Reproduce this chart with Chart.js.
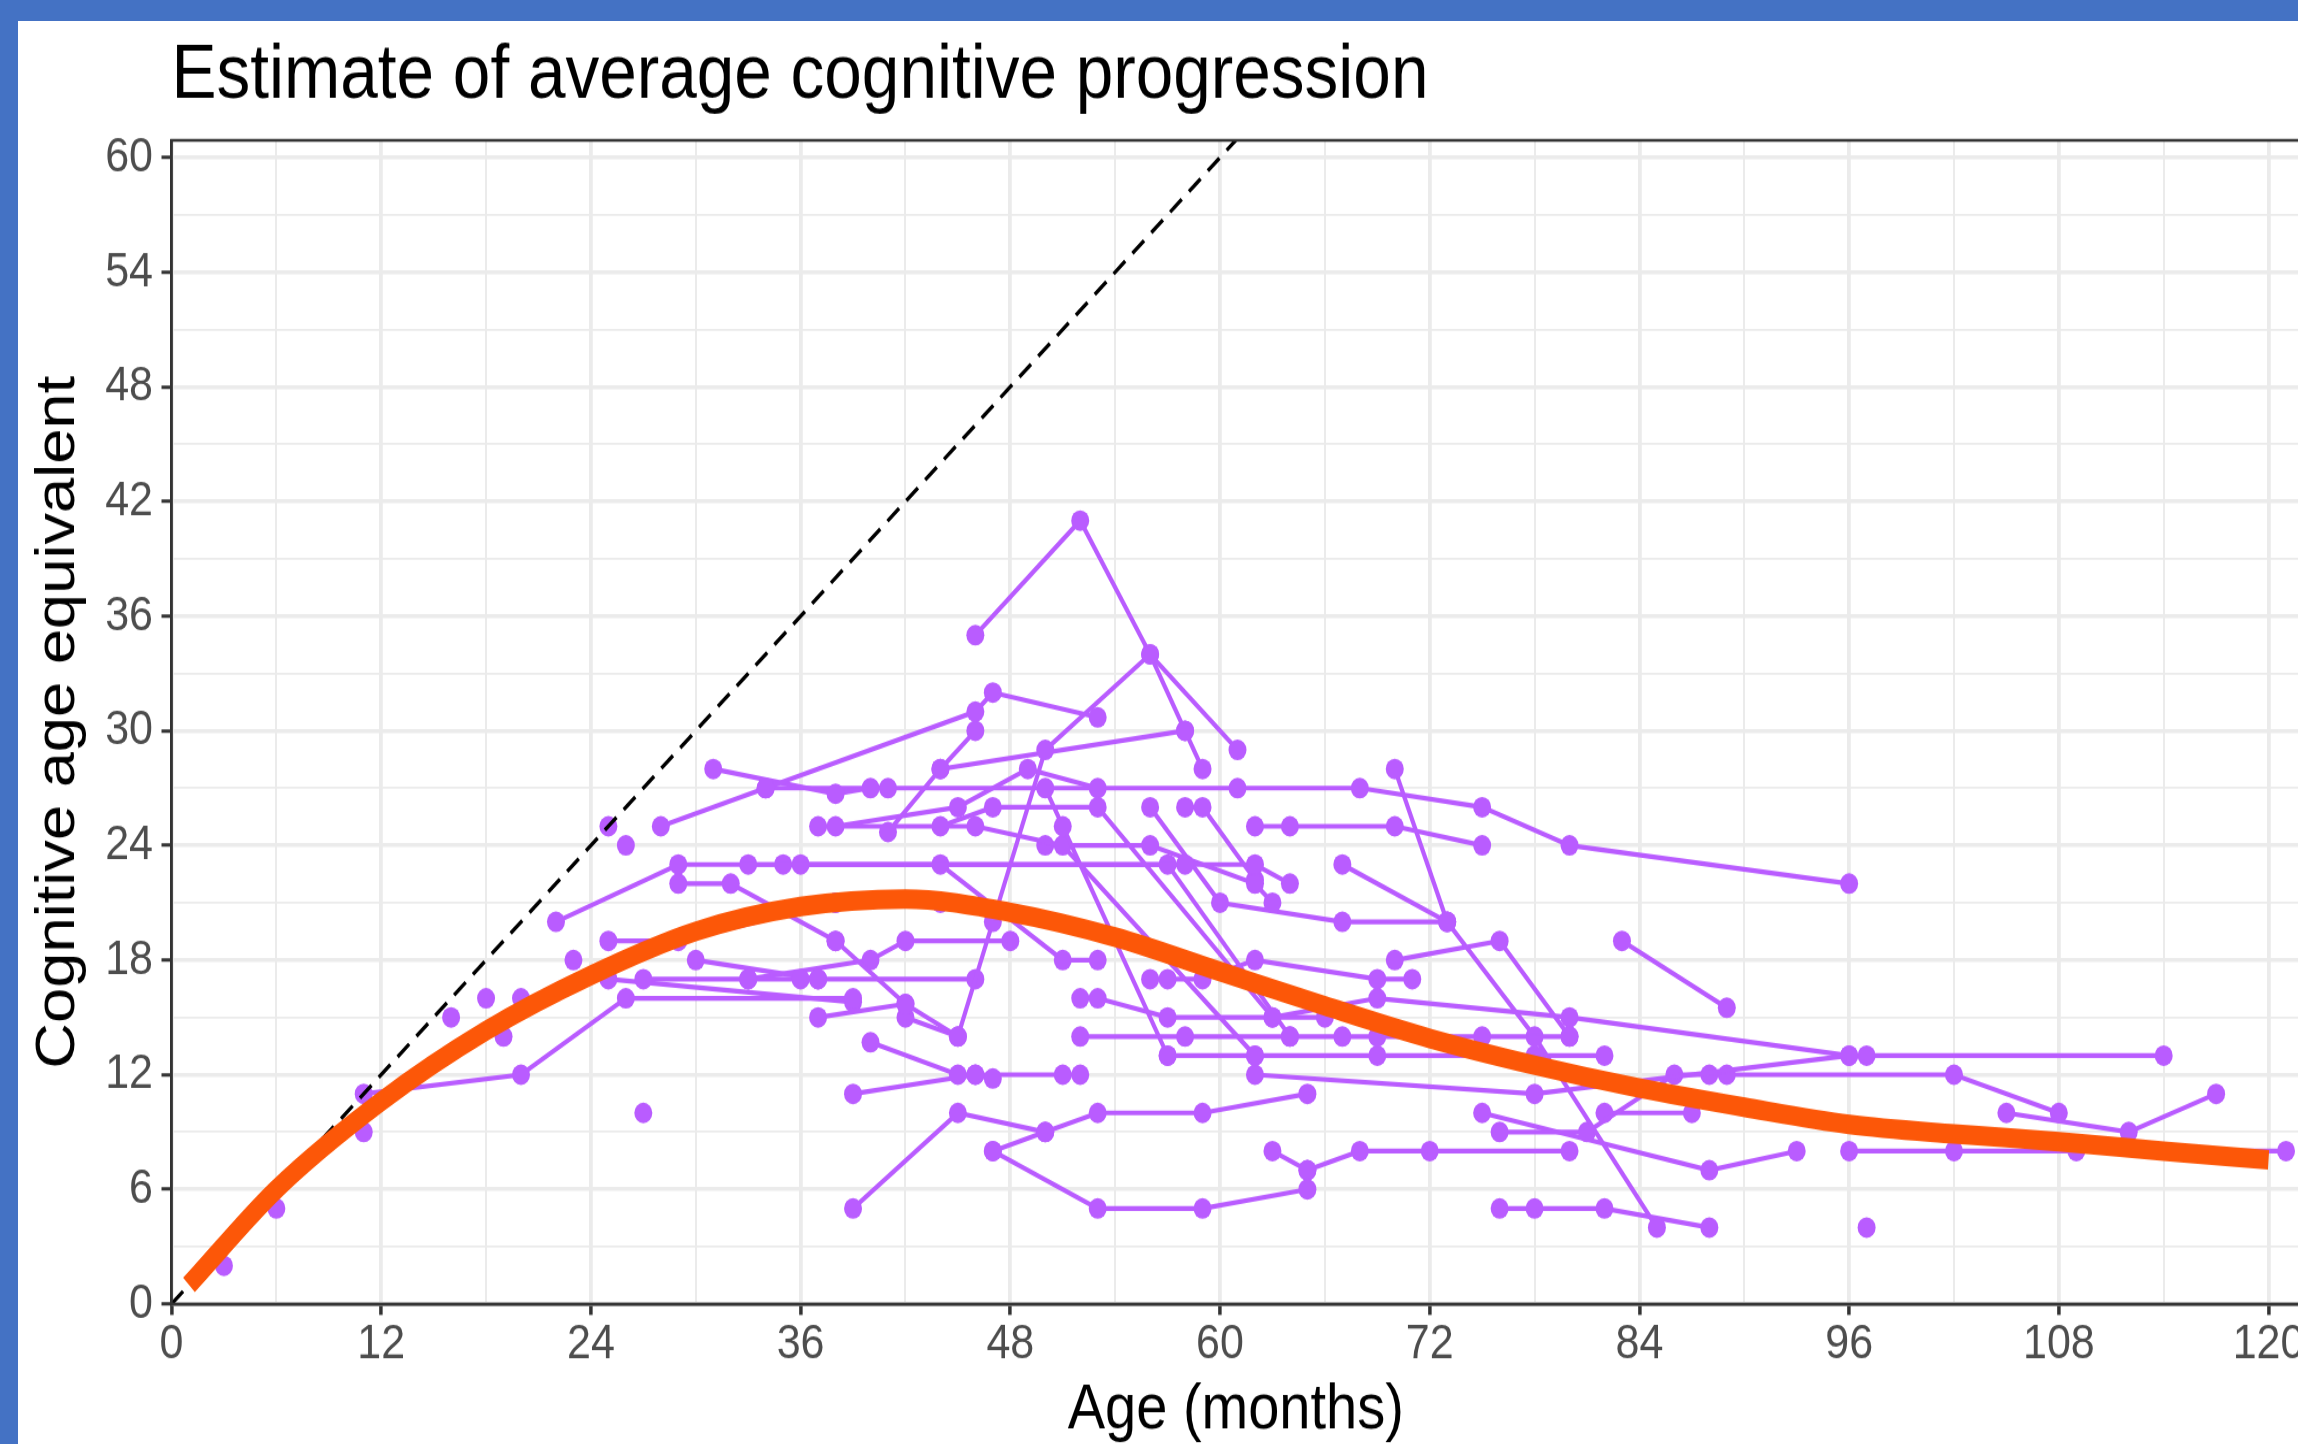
<!DOCTYPE html>
<html><head><meta charset="utf-8">
<script src="https://cdn.jsdelivr.net/npm/chart.js@4/dist/chart.umd.min.js"></script>
<style>
html,body{margin:0;padding:0;width:2298px;height:1444px;overflow:hidden;background:#fff;}
#frame{position:absolute;left:0;top:0;width:2298px;height:1444px;overflow:hidden;background:#fff;}
#wrap{position:absolute;left:0;top:0;width:2340px;height:1290px;transform:scaleY(1.15);transform-origin:0 0;}
#blueTop{position:absolute;left:0;top:0;width:2298px;height:21px;background:#4472C4;}
#blueLeft{position:absolute;left:0;top:0;width:18px;height:1444px;background:#4472C4;}
</style></head>
<body><div id="frame"><div id="wrap"><canvas id="c"></canvas></div><div id="blueTop"></div><div id="blueLeft"></div></div>
<script>
// ---- axis ticks ----
const xTickLabels = [0,12,24,36,48,60,72,84,96,108,120];
const xMinorTicks = [6,18,30,42,54,66,78,90,102,114];
const yTickLabels = [0,6,12,18,24,30,36,42,48,54,60];
const yMinorTicks = [3,9,15,21,27,33,39,45,51,57];

// ---- average trajectory (orange) ----
const fitAge = [1,6,12,18,24,30,36,42,48,54,60,66,72,78,84,90,96,102,108,114,120];
const fitCog = [1.0,6.0,10.6,14.3,17.2,19.5,20.8,21.2,20.5,19.2,17.4,15.6,13.9,12.5,11.3,10.3,9.4,8.9,8.5,8.0,7.55];

// ---- identity reference (dashed) ----
const refAge = [0,60.9];

// ---- individual subjects: [age, cognitive age equivalent] ----
const s01=[[11,11],[20,12],[26,16],[39,16]];
const s02=[[22,20],[29,23],[58,23]];
const s03=[[28,25],[34,27],[46,31],[47,32],[53,30.7]];
const s04=[[31,28],[38,26.7],[40,27],[41,27]];
const s05=[[46,35],[52,41],[56,34],[58,30],[59,28]];
const s06=[[38,19],[42,15.7],[45,14],[47,20],[50,29],[56,34],[61,29]];
const s07=[[44,28],[46,30]];
const s08=[[41,24.7],[44,28],[58,30]];
const s09=[[34,27],[61,27],[68,27],[75,26],[80,24],[96,22]];
const s10=[[50,27],[51,25],[57,13]];
const s11=[[37,25],[46,25],[51,24],[62,13]];
const s12=[[38,25],[45,26],[49,28],[53,27]];
const s13=[[44,25],[47,26],[53,26],[63,15]];
const s14=[[62,25],[64,25],[70,25],[75,24]];
const s15=[[33,23],[44,23],[51,18],[53,18]];
const s16=[[35,23],[57,23],[64,14]];
const s17=[[29,22],[32,22],[38,19]];
const s18=[[36,23],[62,23],[64,22]];
const s19=[[50,24],[56,24],[62,22],[63,21]];
const s20=[[56,26],[60,21],[67,20],[73,20]];
const s21=[[38,21],[44,21]];
const s22=[[25,19],[29,19],[38,21]];
const s23=[[27,17],[33,17],[36,17],[37,17],[46,17]];
const s24=[[30,18],[37,17]];
const s25=[[33,17],[40,18],[42,19],[48,19]];
const s26=[[37,15],[42,15.7]];
const s27=[[42,15],[45,14]];
const s28=[[56,17],[57,17],[59,17],[62,18],[69,17],[71,17]];
const s29=[[52,16],[53,16],[57,15],[66,15]];
const s30=[[40,13.7],[45,12],[46,12],[47,11.8]];
const s31=[[39,11],[46,12],[51,12],[52,12]];
const s32=[[39,5],[45,10],[50,9]];
const s33=[[47,8],[50,9],[53,10],[59,10],[65,11]];
const s34=[[47,8],[53,5],[59,5],[65,6]];
const s35=[[52,14],[58,14],[64,14],[67,14],[69,14],[75,14],[80,14]];
const s36=[[57,13],[62,13],[69,13],[78,13],[82,13]];
const s37=[[62,12],[78,11],[96,13]];
const s38=[[63,15],[69,16],[80,15],[96,13],[97,13],[114,13]];
const s39=[[70,28],[73,20],[78,14],[85,4]];
const s40=[[67,23],[73,20]];
const s41=[[65,7],[68,8],[72,8],[80,8]];
const s42=[[76,9],[81,9],[86,12],[89,12]];
const s43=[[76,5],[78,5],[82,5],[88,4]];
const s44=[[75,10],[88,7],[93,8]];
const s45=[[96,8],[102,8],[109,8],[121,8]];
const s46=[[83,19],[89,15.5]];
const s47=[[88,12],[102,12],[108,10]];
const s48=[[105,10],[112,9],[117,11]];
const s49=[[82,10],[87,10]];
const s50=[[70,18],[76,19],[80,14]];
const s51=[[25,17],[39,15.8]];
const s52=[[3,2]], s53=[[6,5]], s54=[[11,9]], s55=[[27,10]], s56=[[97,4]];
const s57=[[16,15]], s58=[[18,16]], s59=[[19,14]], s60=[[20,16]], s61=[[23,18]];
const s62=[[25,25]], s63=[[26,24]];
const s64=[[63,8],[65,7]];
const s65=[[58,26],[59,26],[62,22.2]];
const subjects=[s01,s02,s03,s04,s05,s06,s07,s08,s09,s10,s11,s12,s13,s14,s15,s16,s17,s18,s19,s20,
 s21,s22,s23,s24,s25,s26,s27,s28,s29,s30,s31,s32,s33,s34,s35,s36,s37,s38,s39,s40,s41,s42,s43,s44,
 s45,s46,s47,s48,s49,s50,s51,s52,s53,s54,s55,s56,s57,s58,s59,s60,s61,s62,s63,s64,s65];

const PURPLE='#B95CFF', ORANGE='#FC5708';
const FONT="'Liberation Sans', Arial, Helvetica, sans-serif";

const xAll=[...xTickLabels,...xMinorTicks].sort((a,b)=>a-b);
const yAll=[...yTickLabels,...yMinorTicks].sort((a,b)=>a-b);
const isMajX=v=>xTickLabels.includes(v), isMajY=v=>yTickLabels.includes(v);

const datasets=[];
datasets.push({label:'fit',data:fitAge.map((a,i)=>({x:a,y:fitCog[i]})),borderColor:ORANGE,borderWidth:17,
  pointRadius:0,cubicInterpolationMode:'monotone',borderCapStyle:'butt',fill:false,order:0});
datasets.push({label:'identity',data:refAge.map(a=>({x:a,y:a})),borderColor:'#000',borderWidth:3.4,
  borderDash:[16,10],pointRadius:0,fill:false,order:1});
subjects.forEach((s,i)=>datasets.push({label:'id'+(i+1),data:s.map(p=>({x:p[0],y:p[1]})),
  borderColor:PURPLE,backgroundColor:PURPLE,borderWidth:4.2,pointRadius:9,pointBorderWidth:0,
  pointBackgroundColor:PURPLE,showLine:true,fill:false,order:2}));

const panelBorder={id:'panelBorder',afterDatasetsDraw(chart){const a=chart.chartArea,c=chart.ctx;
  c.save();c.strokeStyle='#333333';c.lineWidth=2.5;c.strokeRect(a.left,a.top,a.right-a.left,a.bottom-a.top);c.restore();}};

new Chart(document.getElementById('c'),{
 type:'line',
 data:{datasets},
 options:{
  responsive:true,maintainAspectRatio:false,animation:false,
  layout:{padding:{left:0,right:40,top:0,bottom:29.8}},
  plugins:{legend:{display:false},tooltip:{enabled:false},
   title:{display:true,text:'Estimate of average cognitive progression',align:'start',fullSize:false,
     color:'#000',font:{family:FONT,size:67.5,weight:'normal'},padding:{top:25.5,bottom:15.5}}},
  scales:{
   x:{type:'linear',min:0,max:121.8,
     afterBuildTicks:s=>{s.ticks=xAll.map(v=>({value:v}));},
     afterFit:s=>{s.height=126.3;},
     ticks:{callback:v=>isMajX(v)?String(v):'',color:'#4D4D4D',font:{family:FONT,size:43},padding:0,maxRotation:0,autoSkip:false},
     grid:{color:'#EBEBEB',lineWidth:c=>isMajX(c.tick.value)?3.8:2,tickLength:9.5,
       tickColor:c=>isMajX(c.tick.value)?'#333333':'rgba(0,0,0,0)',tickWidth:3.5},
     border:{display:true,color:'#333333',width:2.5},
     title:{display:true,text:'Age (months)',color:'#000',font:{family:FONT,size:56},padding:{top:0,bottom:0}}},
   y:{type:'linear',min:0,max:60.9,
     afterBuildTicks:s=>{s.ticks=yAll.map(v=>({value:v}));},
     afterFit:s=>{s.width=171.5;},
     ticks:{callback:v=>isMajY(v)?String(v):'',color:'#4D4D4D',font:{family:FONT,size:43},padding:8.5,autoSkip:false},
     grid:{color:'#EBEBEB',lineWidth:c=>isMajY(c.tick.value)?3.5:1.8,tickLength:10,
       tickColor:c=>isMajY(c.tick.value)?'#333333':'rgba(0,0,0,0)',tickWidth:3},
     border:{display:true,color:'#333333',width:2.5},
     title:{display:true,text:'Cognitive age equivalent',color:'#000',font:{family:FONT,size:55},padding:{top:26,bottom:0}}}
  }
 },
 plugins:[panelBorder]
});
</script></body></html>
